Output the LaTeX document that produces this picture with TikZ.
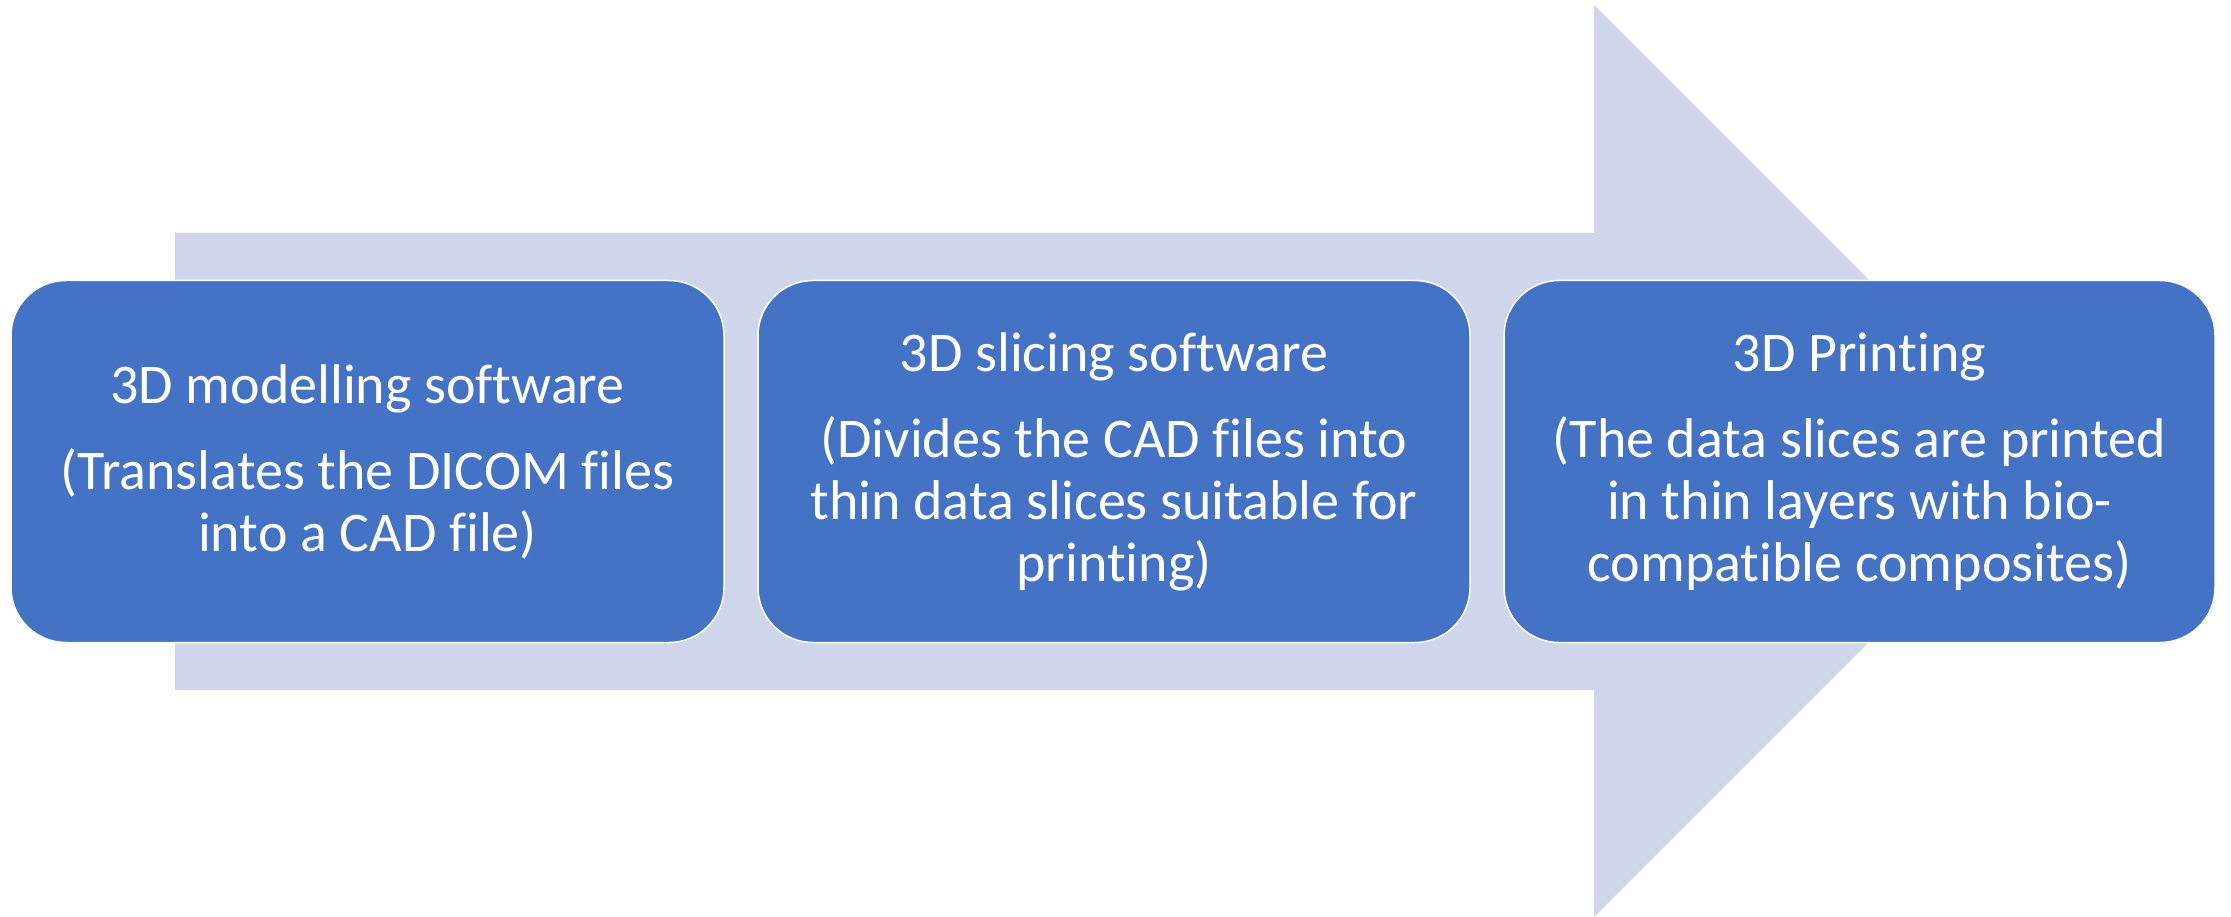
\documentclass[tikz,border=0pt]{standalone}
\usepackage{fontspec}
\setmainfont{Carlito}[Ligatures={NoCommon}]
\definecolor{arrowfill}{HTML}{CFD5EA}
\definecolor{boxfill}{HTML}{4472C4}
\tikzset{
  stepbox/.style={draw=white, line width=1.5pt, fill=boxfill, rounded corners=55pt,
    minimum height=362pt, inner sep=0pt},
  boxtext/.style={text=white, align=center, inner sep=0pt},
  calfont/.style={font=\fontsize{56}{62}\selectfont}
}
\begin{document}
\begin{tikzpicture}[x=1pt,y=-1pt]
\useasboundingbox (0,0) rectangle (2231,917);
\fill[arrowfill] (175,233) -- (1594,233) -- (1594,5) -- (2050,461) -- (1594,917) -- (1594,690) -- (175,690) -- cycle;
\node[stepbox, minimum width=713pt] (b1) at (367.5,461.5) {};
\node[stepbox, minimum width=712pt] (b2) at (1114,461.5) {};
\node[stepbox, minimum width=711pt] (b3) at (1859.5,461.5) {};
\node[boxtext, calfont] (t1) at (b1.center)
  {3D modelling software\\[24pt](Translates the DICOM files\\into a CAD file)};
\node[boxtext, calfont] (t2) at (b2.center)
  {3D slicing software\\[24pt](Divides the CAD files into\\thin data slices suitable for\\printing)};
\node[boxtext, calfont] (t3) at (b3.center)
  {3D Printing\\[24pt](The data slices are printed\\in thin layers with bio-\\compatible composites)};
\end{tikzpicture}
\end{document}
